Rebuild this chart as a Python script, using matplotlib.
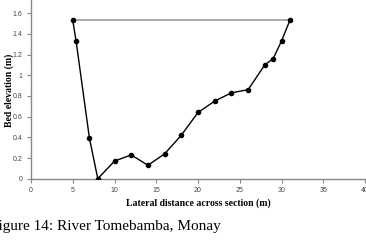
import matplotlib
matplotlib.use("Agg")
import matplotlib.pyplot as plt

# cross-section survey points
distance = [5, 5.4, 7, 8, 10, 12, 14, 16, 18, 20, 22, 24, 26, 28, 29, 30, 31]
elevation = [1.53, 1.33, 0.39, 0.0, 0.17, 0.23, 0.13, 0.24, 0.42, 0.64,
             0.75, 0.83, 0.86, 1.10, 1.16, 1.33, 1.53]

# water surface
water_x = [5, 31]
water_y = [1.53, 1.53]

x_ticks = [0, 5, 10, 15, 20, 25, 30, 35, 40]
y_ticks = [0, 0.2, 0.4, 0.6, 0.8, 1.0, 1.2, 1.4, 1.6]
y_tick_labels = ["0", "0.2", "0.4", "0.6", "0.8", "1", "1.2", "1.4", "1.6"]

SERIF = ["Liberation Serif", "DejaVu Serif"]

fig = plt.figure(figsize=(3.66, 2.5), dpi=100)
ax = fig.add_axes([31 / 366, (250 - 178.7) / 250, 334 / 366, 178.7 / 250])

ax.plot(water_x, water_y, color="#999999", lw=1.2, zorder=2)
ax.plot(distance, elevation, color="black", lw=1.0, marker="o",
        markersize=3, zorder=3)

ax.set_xlim(0, 40)
ax.set_ylim(0, 1.727)
ax.set_xticks(x_ticks)
ax.set_yticks(y_ticks)
ax.set_yticklabels(y_tick_labels)

for side in ["top", "right"]:
    ax.spines[side].set_visible(False)
for side in ["left", "bottom"]:
    ax.spines[side].set_color("#888888")
    ax.spines[side].set_linewidth(1.0)

ax.tick_params(axis="both", direction="out", length=3, width=0.8,
               color="#888888", labelsize=5, labelcolor="#444444", pad=3)
for lab in ax.get_xticklabels() + ax.get_yticklabels():
    lab.set_family(["Liberation Sans", "DejaVu Sans"])

fig.text(198 / 366, (250 - 202.7) / 250, "Lateral distance across section (m)",
         ha="center", va="center", fontsize=7, fontweight="bold", family=SERIF)
fig.text(9.5 / 366, (250 - 90) / 250, "Bed elevation (m)", rotation=90,
         ha="center", va="center", fontsize=7, fontweight="bold", family=SERIF)
fig.text(221 / 366, (250 - 230) / 250, "Figure 14: River Tomebamba, Monay",
         ha="right", va="baseline", fontsize=11, family=SERIF)

fig.savefig("out.png", dpi=100)
